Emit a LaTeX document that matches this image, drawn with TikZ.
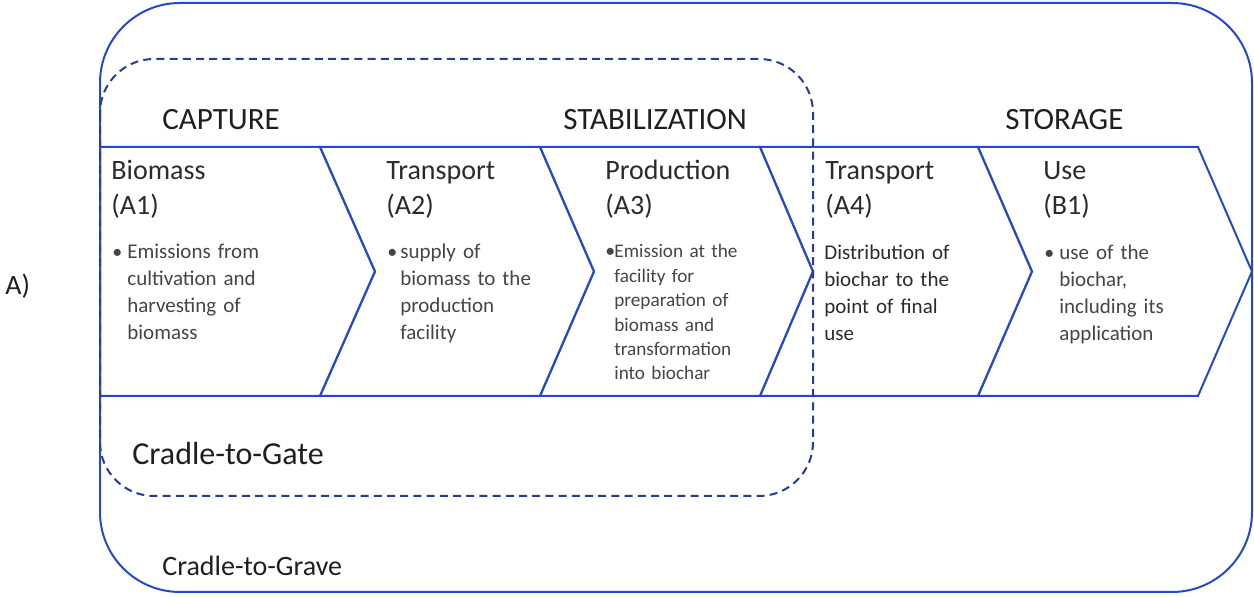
\documentclass[tikz,border=0pt]{standalone}
\usepackage{fontspec}
\setmainfont{Carlito}
\definecolor{frameblue}{RGB}{38,72,205}
\definecolor{dashblue}{RGB}{40,58,160}
\definecolor{headgray}{gray}{0.12}
\definecolor{titlegray}{gray}{0.17}
\definecolor{bodygray}{gray}{0.27}
\definecolor{darkbody}{gray}{0.17}
\begin{document}
\begin{tikzpicture}[x=0.5pt,y=-0.5pt,
  stage/.style={draw=frameblue,line width=1pt,line join=miter},
  frame/.style={draw=frameblue,line width=1pt,rounded corners=40pt},
  gate/.style={draw=dashblue,line width=1pt,dash pattern=on 4pt off 2.6pt,rounded corners=27pt},
  head/.style={anchor=base west,inner sep=0pt,text=headgray,font=\fontsize{15.5}{18}\selectfont},
  stitle/.style={anchor=base west,inner sep=0pt,text width=80pt,align=left,text=titlegray,
    font=\fontsize{14}{17.5}\selectfont},
  sbody/.style={anchor=base west,inner sep=0pt,text width=100pt,align=left,text=bodygray,
    font=\fontsize{10.5}{13.35}\selectfont},
  dot/.style={anchor=base west,inner sep=0pt,text=bodygray,font=\fontsize{10}{12}\selectfont},
  label/.style={anchor=base west,inner sep=0pt,text=headgray}]
\useasboundingbox (0,0) rectangle (1254,597);

% Cradle-to-Grave boundary
\draw[frame] (100,3) rectangle (1252,592);

% life-cycle stages as chevrons
\draw[stage] (100,147) -- (320,147) -- (375,271.5) -- (320,396) -- (100,396) -- cycle;
\draw[stage] (320,147) -- (540,147) -- (594,271.5) -- (540,396) -- (320,396) -- (375,271.5) -- cycle;
\draw[stage] (540,147) -- (760,147) -- (813,271.5) -- (760,396) -- (540,396) -- (594,271.5) -- cycle;
\draw[stage] (760,147) -- (978,147) -- (1032,271.5) -- (978,396) -- (760,396) -- (813,271.5) -- cycle;
\draw[stage] (978,147) -- (1198,147) -- (1252,271.5) -- (1198,396) -- (978,396) -- (1032,271.5) -- cycle;

% Cradle-to-Gate boundary
\draw[gate] (100,59) rectangle (813,496);

% phase headings
\node[head] (capture) at (162,130) {CAPTURE};
\node[head] (stabil) at (563,130) {STABILIZATION};
\node[head] (storage) at (1005,130) {STORAGE};

% stage titles
\node[stitle] (t1) at (111,180) {Biomass\\(A1)};
\node[stitle] (t2) at (386,180) {Transport\\(A2)};
\node[stitle] (t3) at (605,180) {Production\\(A3)};
\node[stitle] (t4) at (825,180) {Transport\\(A4)};
\node[stitle] (t5) at (1043,180) {Use\\(B1)};

% stage descriptions
\node[dot] (d1) at (112,259) {•};
\node[sbody] (b1) at (127,259) {Emissions from\\cultivation and\\harvesting of\\biomass};
\node[dot] (d2) at (387,259) {•};
\node[sbody] (b2) at (400,259) {supply of\\biomass to the\\production\\facility};
\node[dot] (d3) at (605,258) {•};
\node[sbody,font=\fontsize{9.6}{12.2}\selectfont] (b3) at (614,258) {Emission at the\\facility for\\preparation of\\biomass and\\transformation\\into biochar};
\node[sbody,text=darkbody] (b4) at (824,260) {Distribution of\\biochar to the\\point of final\\use};
\node[dot] (d5) at (1044,260) {•};
\node[sbody] (b5) at (1059,260) {use of the\\biochar,\\including its\\application};

% boundary labels
\node[label,font=\fontsize{14}{17}\selectfont] (panel) at (5,295) {A)};
\node[label,font=\fontsize{16}{19}\selectfont] (ctgate) at (132,465) {Cradle-to-Gate};
\node[label,font=\fontsize{14}{17}\selectfont] (ctgrave) at (162,576) {Cradle-to-Grave};
\end{tikzpicture}
\end{document}
